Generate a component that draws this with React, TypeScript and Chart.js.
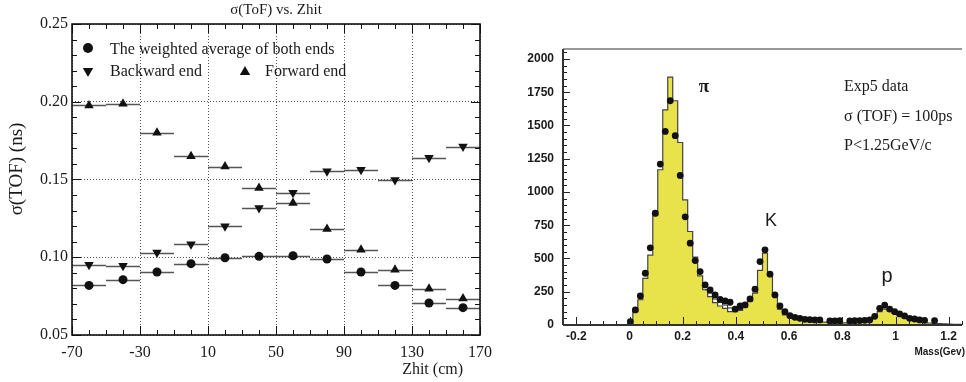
import React, { useEffect, useRef } from 'react';
import { Chart, registerables } from 'chart.js';

Chart.register(...registerables);

// ---------------- Left panel: sigma(ToF) vs Zhit ----------------
const zhitCenters = [-60, -40, -20, 0, 20, 40, 60, 80, 100, 120, 140, 160];
const zhitHalfBin = 10;
const sigmaAverage = [0.0819, 0.0856, 0.0905, 0.0959, 0.0997, 0.1006, 0.101, 0.0989, 0.0905, 0.0819, 0.0706, 0.0676];
const sigmaBackward = [0.0952, 0.0946, 0.103, 0.1083, 0.1199, 0.1317, 0.1414, 0.1553, 0.1562, 0.1497, 0.164, 0.1712];
const sigmaForward = [0.1976, 0.1987, 0.18, 0.165, 0.1583, 0.1446, 0.1349, 0.1182, 0.1049, 0.092, 0.0798, 0.0734];
const zhitTicks = [-70, -30, 10, 50, 90, 130, 170];
const sigmaTicks = [0.05, 0.1, 0.15, 0.2, 0.25];
const legendLabels = ['The weighted average of both ends', 'Backward end', 'Forward end'];
const leftTitle = 'σ(ToF) vs. Zhit';
const leftYTitle = 'σ(TOF) (ns)';
const leftXTitle = 'Zhit (cm)';

// ---------------- Right panel: mass histogram ----------------
const massTicks = [-0.2, 0, 0.2, 0.4, 0.6, 0.8, 1, 1.2];
const countTicks = [0, 250, 500, 750, 1000, 1250, 1500, 1750, 2000];
const massMin = -0.25;
const massMax = 1.25;
const countMax = 2075;
const massBinWidth = 0.01875;
const massFirstCenter = 0.003125;
// simulated (yellow) histogram, bins starting at massFirstCenter
const mcCounts = [
  10, 100, 190, 350, 525, 823, 1167, 1618, 1864, 1686,
  1372, 941, 703, 510, 369, 265, 213, 168, 143, 125,
  100, 100, 110, 135, 180, 240, 410, 540, 392, 220,
  120, 75, 60, 48, 40, 35, 30, 27, 25, 22,
  20, 18, 17, 16, 16, 17, 20, 25, 38, 60,
  100, 120, 105, 88, 70, 55, 42, 32, 25, 20,
  15, 12, 10, 8, 6, 5, 4,
];
// total outline in the pi-K valley (bins 15..23)
const valleyFirstBin = 15;
const mcTotalValley = [265, 240, 195, 170, 150, 128, 114, 116, 135];
// data points (null = empty bin)
const dataCounts = [
  25, 113, 218, 389, 580, 840, 1210, 1455, 1686, 1423,
  1124, 813, 615, 484, 402, 301, 264, 226, 193, 181,
  171, 120, 143, 151, 196, 269, 477, 565, 382, 226,
  143, 100, 70, 58, 50, 43, 40, 38, 38, null,
  30, 30, 32, null, 30, 32, 33, 35, 38, 65,
  125, 150, 120, 100, 83, 68, 50, 45, 38, 35,
  null, 33,
];
const infoLines = ['Exp5 data', 'σ (TOF) = 100ps', 'P<1.25GeV/c'];
const peakLabels = ['π', 'K', 'p'];
const rightXTitle = 'Mass(Gev)';

const SERIF = '"Liberation Serif", "Times New Roman", serif';
const SANS = '"Liberation Sans", Arial, sans-serif';

function triPath(ctx: CanvasRenderingContext2D, cx: number, cy: number, r: number, down: boolean) {
  const s = down ? -1 : 1;
  const h = r * Math.sin(Math.PI / 3);
  ctx.beginPath();
  ctx.moveTo(cx, cy - s * r);
  ctx.lineTo(cx - h, cy + s * r / 2);
  ctx.lineTo(cx + h, cy + s * r / 2);
  ctx.closePath();
  ctx.fill();
}

const leftDecor = {
  id: 'leftDecor',
  beforeDatasetsDraw(chart: any) {
    const { ctx, scales } = chart;
    const x = scales.x, y = scales.y;
    ctx.save();
    ctx.strokeStyle = '#555';
    ctx.lineWidth = 1.5;
    const series = [sigmaAverage, sigmaBackward, sigmaForward];
    series.forEach((vals) => {
      vals.forEach((v, i) => {
        const py = Math.round(y.getPixelForValue(v)) + 0.5;
        ctx.beginPath();
        ctx.moveTo(x.getPixelForValue(zhitCenters[i] - zhitHalfBin), py);
        ctx.lineTo(x.getPixelForValue(zhitCenters[i] + zhitHalfBin), py);
        ctx.stroke();
      });
    });
    ctx.restore();
  },
  afterDraw(chart: any) {
    const { ctx, chartArea: a, scales } = chart;
    const x = scales.x, y = scales.y;
    ctx.save();
    ctx.strokeStyle = '#111';
    ctx.lineWidth = 1;
    const line = (x1: number, y1: number, x2: number, y2: number) => {
      ctx.beginPath(); ctx.moveTo(x1, y1); ctx.lineTo(x2, y2); ctx.stroke();
    };
    for (let i = 0; i <= 24; i++) {
      const v = -70 + i * 10;
      const px = Math.round(x.getPixelForValue(v)) + 0.5;
      const len = i % 4 === 0 ? 9 : 5;
      line(px, a.bottom, px, a.bottom - len);
      line(px, a.top, px, a.top + len);
    }
    for (let i = 0; i <= 20; i++) {
      const v = 0.05 + i * 0.01;
      const py = Math.round(y.getPixelForValue(v)) + 0.5;
      const len = i % 5 === 0 ? 9 : 5;
      line(a.left, py, a.left + len, py);
      line(a.right, py, a.right - len, py);
    }
    ctx.lineWidth = 1.6;
    ctx.strokeRect(a.left, a.top, a.right - a.left, a.bottom - a.top);

    ctx.fillStyle = '#1a1a1a';
    ctx.font = `15px ${SERIF}`;
    ctx.textAlign = 'center';
    ctx.textBaseline = 'alphabetic';
    ctx.fillText(leftTitle, (a.left + a.right) / 2, 14);

    ctx.font = `16px ${SERIF}`;
    ctx.textAlign = 'right';
    ctx.fillText(leftXTitle, 463, 374);

    ctx.save();
    ctx.translate(17, 169);
    ctx.rotate(-Math.PI / 2);
    ctx.textAlign = 'center';
    ctx.textBaseline = 'middle';
    ctx.font = `19px ${SERIF}`;
    ctx.fillText(leftYTitle, 0, 0);
    ctx.restore();

    // legend
    ctx.fillStyle = '#111';
    ctx.beginPath(); ctx.arc(88, 48, 5, 0, Math.PI * 2); ctx.fill();
    triPath(ctx, 88, 71, 6, true);
    triPath(ctx, 245, 72, 6, false);
    ctx.font = `16px ${SERIF}`;
    ctx.textAlign = 'left';
    ctx.fillStyle = '#1a1a1a';
    ctx.fillText(legendLabels[0], 110, 53.5);
    ctx.fillText(legendLabels[1], 110, 76);
    ctx.fillText(legendLabels[2], 265, 76);
    ctx.restore();
  },
};

const rightDecor = {
  id: 'rightDecor',
  afterDraw(chart: any) {
    const { ctx, chartArea: a, scales } = chart;
    const x = scales.x, y = scales.y;
    ctx.save();
    ctx.strokeStyle = '#222';
    ctx.lineWidth = 1;
    const line = (x1: number, y1: number, x2: number, y2: number) => {
      ctx.beginPath(); ctx.moveTo(x1, y1); ctx.lineTo(x2, y2); ctx.stroke();
    };
    for (let i = 0; i <= 41; i++) {
      const v = i * 50;
      const py = Math.round(y.getPixelForValue(v)) + 0.5;
      const len = i % 5 === 0 ? 7 : 4;
      line(a.left, py, a.left + len, py);
    }
    for (let i = 0; i <= 30; i++) {
      const v = -0.25 + i * 0.05;
      const px = Math.round(x.getPixelForValue(v)) + 0.5;
      const major = Math.abs(v / 0.2 - Math.round(v / 0.2)) < 1e-6;
      const len = major ? 8 : 4;
      line(px, a.bottom, px, a.bottom - len);
    }
    ctx.lineWidth = 2;
    ctx.strokeStyle = '#333';
    line(a.left, a.top, a.left, a.bottom);
    line(a.left, a.bottom, a.right, a.bottom);
    ctx.lineWidth = 1.2;
    line(a.left, a.top, a.right, a.top);

    ctx.fillStyle = '#1a1a1a';
    ctx.font = `16px ${SERIF}`;
    ctx.textAlign = 'left';
    ctx.textBaseline = 'alphabetic';
    ctx.fillText(infoLines[0], 344, 91);
    ctx.fillText(infoLines[1], 344, 121);
    ctx.fillText(infoLines[2], 344, 150);

    ctx.textAlign = 'center';
    ctx.font = `bold 19px ${SERIF}`;
    ctx.fillText(peakLabels[0], 204, 92);
    ctx.font = `18px ${SANS}`;
    ctx.fillText(peakLabels[1], 271, 226);
    ctx.font = `20px ${SANS}`;
    ctx.fillText(peakLabels[2], 387, 282);

    ctx.textAlign = 'right';
    ctx.font = `bold 10px ${SANS}`;
    ctx.fillText(rightXTitle, 465, 355);
    ctx.restore();
  },
};

export default function App() {
  const leftRef = useRef<HTMLCanvasElement>(null);
  const rightRef = useRef<HTMLCanvasElement>(null);

  useEffect(() => {
    const mk = (vals: number[]) => vals.map((v, i) => ({ x: zhitCenters[i], y: v }));
    const left = new Chart(leftRef.current as HTMLCanvasElement, {
      type: 'scatter',
      data: {
        datasets: [
          { label: legendLabels[0], data: mk(sigmaAverage), pointStyle: 'circle', pointRadius: 4.5, backgroundColor: '#111', borderColor: '#111', borderWidth: 0 },
          { label: legendLabels[1], data: mk(sigmaBackward), pointStyle: 'triangle', rotation: 180, pointRadius: 5.5, backgroundColor: '#111', borderColor: '#111', borderWidth: 0 },
          { label: legendLabels[2], data: mk(sigmaForward), pointStyle: 'triangle', pointRadius: 5.5, backgroundColor: '#111', borderColor: '#111', borderWidth: 0 },
        ],
      },
      options: {
        animation: false,
        responsive: false,
        layout: { padding: { top: 24, right: 14, left: 0, bottom: 0 } },
        plugins: { legend: { display: false }, tooltip: { enabled: false } },
        scales: {
          x: {
            type: 'linear', min: -70, max: 170,
            afterBuildTicks: (s: any) => { s.ticks = zhitTicks.map((v) => ({ value: v })); },
            ticks: { font: { family: SERIF, size: 16 }, color: '#1a1a1a', padding: 8, maxRotation: 0, autoSkip: false, callback: (v: any) => String(v) },
            grid: { drawTicks: false, color: '#555', lineWidth: 1 },
            border: { display: false, dash: [1, 2] },
            afterFit: (s: any) => { s.height = 47; },
          },
          y: {
            type: 'linear', min: 0.05, max: 0.25,
            afterBuildTicks: (s: any) => { s.ticks = sigmaTicks.map((v) => ({ value: v })); },
            ticks: { font: { family: SERIF, size: 16 }, color: '#1a1a1a', padding: 4, callback: (v: any) => Number(v).toFixed(2), autoSkip: false },
            grid: { drawTicks: false, color: '#555', lineWidth: 1 },
            border: { display: false, dash: [1, 2] },
            afterFit: (s: any) => { s.width = 72; },
          },
        },
      },
      plugins: [leftDecor],
    } as any);

    const histPoints: { x: number; y: number }[] = [];
    for (let k = -15; k <= mcCounts.length; k++) {
      histPoints.push({ x: massFirstCenter + k * massBinWidth, y: k >= 0 && k < mcCounts.length ? mcCounts[k] : 0 });
    }
    const outlinePoints = mcTotalValley.map((v, i) => ({ x: massFirstCenter + (valleyFirstBin + i) * massBinWidth, y: v }));
    const dotPoints = dataCounts
      .map((v, k) => (v == null ? null : { x: massFirstCenter + k * massBinWidth, y: v }))
      .filter((p) => p !== null);

    const right = new Chart(rightRef.current as HTMLCanvasElement, {
      type: 'scatter',
      data: {
        datasets: [
          { type: 'line', label: 'MC', data: histPoints, stepped: 'middle', fill: 'origin', backgroundColor: '#e8e34a', borderColor: '#444', borderWidth: 1.2, pointRadius: 0, order: 3 },
          { type: 'line', label: 'MC total', data: outlinePoints, stepped: 'middle', fill: false, borderColor: '#222', borderWidth: 1, pointRadius: 0, order: 2 },
          { label: 'Exp5 data', data: dotPoints, pointStyle: 'circle', pointRadius: 3.4, backgroundColor: '#111', borderColor: '#111', borderWidth: 0, order: 1 },
        ],
      },
      options: {
        animation: false,
        responsive: false,
        layout: { padding: { top: 49, right: 0, left: 0, bottom: 0 } },
        plugins: { legend: { display: false }, tooltip: { enabled: false } },
        scales: {
          x: {
            type: 'linear', min: massMin, max: massMax,
            afterBuildTicks: (s: any) => { s.ticks = massTicks.map((v) => ({ value: v })); },
            ticks: { font: { family: SANS, size: 12, weight: 'bold' }, color: '#1a1a1a', padding: 4, maxRotation: 0, autoSkip: false, callback: (v: any) => String(Number(Number(v).toFixed(2))) },
            grid: { display: false, drawTicks: false },
            border: { display: false },
            afterFit: (s: any) => { s.height = 57; },
          },
          y: {
            type: 'linear', min: 0, max: countMax,
            afterBuildTicks: (s: any) => { s.ticks = countTicks.map((v) => ({ value: v })); },
            ticks: { font: { family: SANS, size: 12, weight: 'bold' }, color: '#1a1a1a', padding: 9, autoSkip: false, callback: (v: any) => String(v) },
            grid: { display: false, drawTicks: false },
            border: { display: false },
            afterFit: (s: any) => { s.width = 63; },
          },
        },
      },
      plugins: [rightDecor],
    } as any);

    return () => {
      left.destroy();
      right.destroy();
    };
  }, []);

  return (
    <div style={{ position: 'fixed', left: 0, top: 0, width: 966, height: 382, background: '#fff' }}>
      <canvas ref={leftRef} width={500} height={382} style={{ position: 'absolute', left: 0, top: 0, width: 500, height: 382 }} />
      <canvas ref={rightRef} width={466} height={382} style={{ position: 'absolute', left: 500, top: 0, width: 466, height: 382 }} />
    </div>
  );
}
